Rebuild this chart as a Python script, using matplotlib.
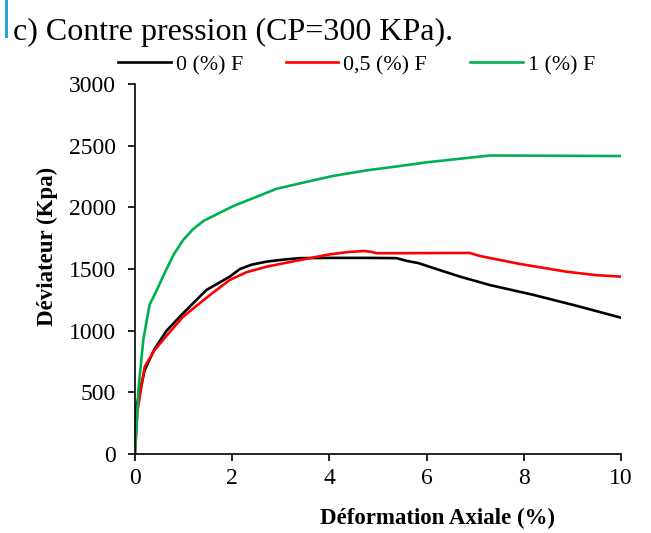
import numpy as np
import matplotlib
matplotlib.use("Agg")
import matplotlib.pyplot as plt
from matplotlib.patches import Rectangle

plt.rcParams['font.family'] = ['Liberation Serif', 'DejaVu Serif']

# Courbes deviateur / deformation axiale, CP = 300 kPa
x_f0 = [0, 0.05, 0.2, 0.4, 0.65, 0.99, 1.47, 1.95, 2.16, 2.4, 2.71, 3.1, 3.4, 4.0, 4.8, 5.38, 5.6, 5.83, 6.2, 6.69, 7.3, 8.2, 9.1, 10]
y_f0 = [280, 420, 681, 850, 1000, 1141, 1330, 1438, 1500, 1535, 1560, 1578, 1588, 1590, 1590, 1588, 1565, 1548, 1500, 1438, 1370, 1290, 1200, 1105]

x_f05 = [0, 0.05, 0.2, 0.4, 0.65, 0.99, 1.54, 1.95, 2.3, 2.71, 3.4, 4.01, 4.4, 4.7, 4.85, 4.97, 5.5, 6.5, 6.89, 7.1, 7.92, 8.88, 9.5, 10]
y_f05 = [0, 350, 708, 840, 960, 1113, 1289, 1411, 1475, 1519, 1573, 1619, 1638, 1646, 1640, 1628, 1628, 1630, 1630, 1605, 1541, 1478, 1450, 1438]

x_f1 = [0, 0.07, 0.17, 0.3, 0.45, 0.6, 0.8, 0.99, 1.2, 1.41, 2.02, 2.91, 3.4, 4.08, 4.77, 5.45, 6.0, 7.3, 7.5, 10]
y_f1 = [0, 519, 924, 1210, 1330, 1460, 1620, 1735, 1825, 1890, 2010, 2150, 2195, 2255, 2300, 2335, 2365, 2420, 2420, 2416]

series = [
    (x_f0, y_f0, '#000000', '0 (%) F'),
    (x_f05, y_f05, '#ff0000', '0,5 (%) F'),
    (x_f1, y_f1, '#00b050', '1 (%) F'),
]

x_ticks = [0, 2, 4, 6, 8, 10]
y_ticks = [0, 500, 1000, 1500, 2000, 2500, 3000]

W, H = 651, 533
fig = plt.figure(figsize=(W / 100, H / 100), dpi=100)
ax = fig.add_axes([135 / W, 1 - 454 / H, (621 - 135) / W, (454 - 84) / H])

for xs, ys, c, lab in series:
    ax.plot(xs, ys, color=c, lw=1.9, label=lab, solid_joinstyle='round')

ax.set_xlim(0, 10)
ax.set_ylim(0, 3000)
ax.set_xticks(x_ticks)
ax.set_yticks(y_ticks)
ax.tick_params(labelsize=17, direction='out', length=5, width=1.2)
ax.tick_params(axis='x', pad=5)
ax.tick_params(axis='y', pad=9)
for s in ['top', 'right']:
    ax.spines[s].set_visible(False)
for s in ['left', 'bottom']:
    ax.spines[s].set_linewidth(1.2)

# axis titles placed in figure pixels
ax.set_xlabel('Déformation Axiale (%)', fontsize=16.5, fontweight='bold')
ax.set_ylabel('Déviateur (Kpa)', fontsize=16.5, fontweight='bold')
ax.xaxis.set_label_coords(437.5 / W, 1 - 508 / H, transform=fig.transFigure)
ax.yaxis.set_label_coords(58 / W, 1 - 246.5 / H, transform=fig.transFigure)

fig.legend(loc='center', bbox_to_anchor=(356.5 / W, 1 - 65 / H), ncol=3,
           frameon=False, fontsize=15.8, handlelength=2.4, handletextpad=0.23,
           columnspacing=1.95, borderaxespad=0, borderpad=0)

fig.text(13 / W, 1 - 40 / H, 'c) Contre pression (CP=300 KPa).', fontsize=23,
         va='baseline', ha='left')
fig.patches.append(Rectangle((5 / W, 1 - 38 / H), 2.5 / W, 38 / H,
                             transform=fig.transFigure, color='#29a3dc', lw=0))

fig.savefig('out.png', dpi=100)
